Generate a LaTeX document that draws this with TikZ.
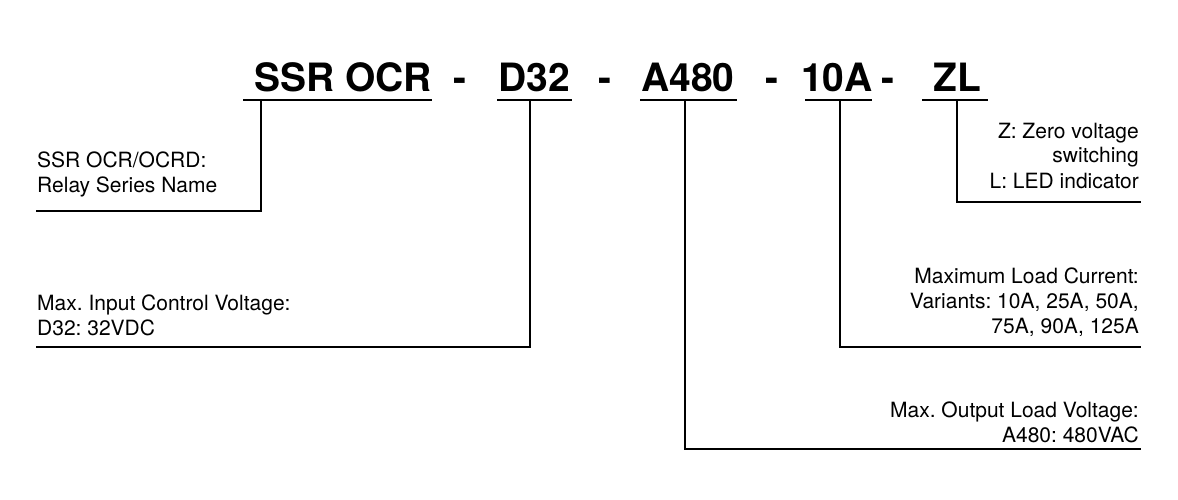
\documentclass[tikz,border=0pt]{standalone}
\usepackage{fontspec}
\setmainfont{TeX Gyre Heros}
\frenchspacing
\begin{document}
\frenchspacing
\begin{tikzpicture}[x=1pt,y=-1pt,
  hdr/.style={font=\fontsize{39}{39}\selectfont\bfseries, inner sep=0pt, anchor=base},
  lbl/.style={font=\fontsize{21}{25}\selectfont\frenchspacing, inner sep=0pt, align=left, anchor=base west},
  lblr/.style={font=\fontsize{21}{25}\selectfont\frenchspacing, inner sep=0pt, align=right, anchor=base east},
  uline/.style={line width=2.5pt},
  conn/.style={line width=2.2pt, line join=miter}]
\useasboundingbox (0,0) rectangle (1178,500);
% header
\node[hdr] (h1) at (343,92) {SSR OCR};
\node[hdr] (s1) at (460,92) {-};
\node[hdr] (h2) at (534,92) {D32};
\node[hdr] (s2) at (605,92) {-};
\node[hdr] (h3) at (688,92) {A480};
\node[hdr] (s3) at (772,92) {-};
\node[hdr] (h4) at (837,92) {10A};
\node[hdr] (s4) at (888,92) {-};
\node[hdr] (h5) at (957,92) {ZL};
% underlines
\coordinate (u1a) at (243,100); \coordinate (u1b) at (432,100);
\coordinate (u2a) at (497,100); \coordinate (u2b) at (572,100);
\coordinate (u3a) at (640,100); \coordinate (u3b) at (737,100);
\coordinate (u4a) at (805,100); \coordinate (u4b) at (872,100);
\coordinate (u5a) at (922,100); \coordinate (u5b) at (988,100);
\draw[uline] (u1a) -- (u1b);
\draw[uline] (u2a) -- (u2b);
\draw[uline] (u3a) -- (u3b);
\draw[uline] (u4a) -- (u4b);
\draw[uline] (u5a) -- (u5b);
% labels (anchor = baseline of the last line)
\node[lbl] (l1) at (37,193) {SSR OCR/OCRD:\\Relay Series Name};
\node[lbl] (l2) at (37,335) {Max. Input Control Voltage:\\D32: 32VDC};
\node[lblr] (l5) at (1139,188) {Z: Zero voltage\\switching\\L: LED indicator};
\node[lblr] (l4) at (1139,333) {Maximum Load Current:\\Variants: 10A, 25A, 50A,\\75A, 90A, 125A};
\node[lblr] (l3) at (1139,442) {Max. Output Load Voltage:\\A480: 480VAC};
% connectors
\coordinate (c1t) at (261,100); \coordinate (c1c) at (261,211); \coordinate (c1e) at (36,211);
\coordinate (c2t) at (530,100); \coordinate (c2c) at (530,347); \coordinate (c2e) at (36,347);
\coordinate (c3t) at (685,100); \coordinate (c3c) at (685,449); \coordinate (c3e) at (1141,449);
\coordinate (c4t) at (840,100); \coordinate (c4c) at (840,347); \coordinate (c4e) at (1141,347);
\coordinate (c5t) at (957,100); \coordinate (c5c) at (957,202); \coordinate (c5e) at (1141,202);
\draw[conn] (c1t) -- (c1c) -- (c1e);
\draw[conn] (c2t) -- (c2c) -- (c2e);
\draw[conn] (c3t) -- (c3c) -- (c3e);
\draw[conn] (c4t) -- (c4c) -- (c4e);
\draw[conn] (c5t) -- (c5c) -- (c5e);
\end{tikzpicture}
\end{document}
